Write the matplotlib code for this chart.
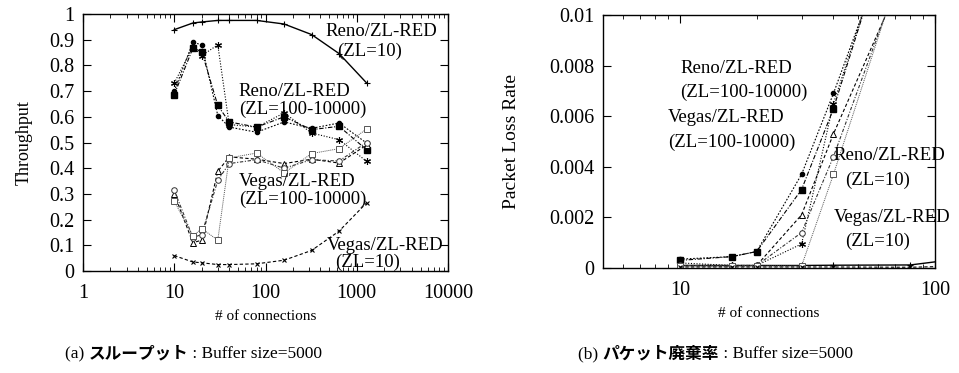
import numpy as np
import matplotlib.pyplot as plt
from matplotlib.ticker import FixedLocator, FixedFormatter, LogLocator, NullFormatter

plt.rcParams['font.family'] = ['Liberation Serif', 'Noto Sans CJK JP']

# number of connections
conns = [10, 16, 20, 30, 40, 80, 160, 320, 640, 1280]

# (a) throughput
thr_reno10 = [0.939, 0.965, 0.969, 0.975, 0.975, 0.975, 0.961, 0.920, 0.846, 0.732]
thr_reno_a = [0.700, 0.890, 0.880, 0.605, 0.560, 0.540, 0.580, 0.555, 0.576, 0.498]
thr_reno_b = [0.686, 0.867, 0.854, 0.644, 0.580, 0.560, 0.600, 0.550, 0.563, 0.472]
thr_reno_c = [0.731, 0.873, 0.838, 0.880, 0.570, 0.560, 0.615, 0.537, 0.511, 0.427]
thr_vegas_a = [0.300, 0.110, 0.120, 0.388, 0.444, 0.435, 0.418, 0.435, 0.420, 0.490]
thr_vegas_b = [0.314, 0.130, 0.142, 0.353, 0.418, 0.433, 0.400, 0.433, 0.428, 0.500]
thr_vegas_c = [0.272, 0.136, 0.165, 0.120, 0.440, 0.459, 0.382, 0.457, 0.476, 0.552]
thr_vegas10 = [0.060, 0.035, 0.032, 0.025, 0.025, 0.028, 0.042, 0.080, 0.155, 0.265]

# (b) packet loss rate (10 .. 160 connections)
conns_b = conns[:7]
loss_reno10 = [0.0001, 0.0001, 0.0001, 0.0001, 0.00011, 0.00012, 0.0005]
loss_reno_a = [0.00035, 0.00045, 0.00065, 0.0037, 0.0069, 0.0152, 0.03]
loss_reno_b = [0.0003, 0.00045, 0.00065, 0.0031, 0.0063, 0.0160, 0.03]
loss_reno_c = [0.0002, 0.0001, 0.0001, 0.00095, 0.0065, 0.0158, 0.03]
loss_vegas_a = [0.0001, 0.0001, 0.0001, 0.0021, 0.0053, 0.0122, 0.025]
loss_vegas_b = [0.0001, 0.00008, 0.0001, 0.0014, 0.0044, 0.0127, 0.025]
loss_vegas_c = [0.00008, 0.00008, 0.00008, 0.00008, 0.0037, 0.0130, 0.025]
loss_vegas10 = [0.00004, 0.00004, 0.00004, 0.00004, 0.00004, 0.00003, 0.0001]

thr_ticks = [0, 0.1, 0.2, 0.3, 0.4, 0.5, 0.6, 0.7, 0.8, 0.9, 1]
thr_labels = ['0', '0.1', '0.2', '0.3', '0.4', '0.5', '0.6', '0.7', '0.8', '0.9', '1']
loss_ticks = [0, 0.002, 0.004, 0.006, 0.008, 0.01]
loss_labels = ['0', '0.002', '0.004', '0.006', '0.008', '0.01']

caption_a = ['(a) ', 'スループット', ' : Buffer size=5000']
caption_b = ['(b) ', 'パケット廃棄率', ' : Buffer size=5000']

# line styles (gnuplot-ish monochrome)
styles = [
    dict(color='black', ls='-', lw=1.0, marker='+', ms=4, mew=0.8),
    dict(color='black', ls=(0, (1.5, 1.5)), lw=0.8, marker='o', ms=3),
    dict(color='black', ls=(0, (4, 1.5, 1, 1.5)), lw=0.8, marker='s', ms=4),
    dict(color='black', ls=(0, (1, 1.5)), lw=0.8, marker=(6, 2, 0), ms=5, mew=0.8),
    dict(color='black', ls=(0, (3, 2)), lw=0.8, marker='^', ms=4, mfc='white', mew=0.7),
    dict(color='#333333', ls=(0, (3, 1.5, 1, 1.5)), lw=0.8, marker='o', ms=4, mfc='white', mew=0.7),
    dict(color='#555555', ls=(0, (1, 1)), lw=0.7, marker='s', ms=4, mfc='white', mew=0.7),
    dict(color='black', ls=(0, (3, 2)), lw=0.8, marker='x', ms=3.5, mew=0.8),
]

fig = plt.figure(figsize=(9.59, 3.73), dpi=100)
W, H = 959, 373
ax1 = fig.add_axes([83 / W, 1 - 271 / H, 365 / W, 257 / H])
ax2 = fig.add_axes([603 / W, 1 - 268 / H, 332 / W, 253 / H])

thr = [thr_reno10, thr_reno_a, thr_reno_b, thr_reno_c,
       thr_vegas_a, thr_vegas_b, thr_vegas_c, thr_vegas10]
loss = [loss_reno10, loss_reno_a, loss_reno_b, loss_reno_c,
        loss_vegas_a, loss_vegas_b, loss_vegas_c, loss_vegas10]

for ys, st in zip(thr, styles):
    ax1.plot(conns, ys, **st)
for ys, st in zip(loss, styles):
    ax2.plot(conns_b, ys, **st)

ax1.set_xscale('log')
ax1.set_xlim(1, 10000)
ax1.set_ylim(0, 1)
ax1.yaxis.set_major_locator(FixedLocator(thr_ticks))
ax1.yaxis.set_major_formatter(FixedFormatter(thr_labels))
ax1.xaxis.set_major_locator(FixedLocator([1, 10, 100, 1000, 10000]))
ax1.xaxis.set_major_formatter(FixedFormatter(['1', '10', '100', '1000', '10000']))
ax1.xaxis.set_minor_locator(LogLocator(base=10, subs=np.arange(2, 10), numticks=20))
ax1.xaxis.set_minor_formatter(NullFormatter())

ax2.set_xscale('log')
ax2.set_xlim(5, 100)
ax2.set_ylim(0, 0.01)
ax2.yaxis.set_major_locator(FixedLocator(loss_ticks))
ax2.yaxis.set_major_formatter(FixedFormatter(loss_labels))
ax2.xaxis.set_major_locator(FixedLocator([10, 100]))
ax2.xaxis.set_major_formatter(FixedFormatter(['10', '100']))
ax2.xaxis.set_minor_locator(LogLocator(base=10, subs=np.arange(2, 10), numticks=20))
ax2.xaxis.set_minor_formatter(NullFormatter())

for ax in (ax1, ax2):
    ax.tick_params(which='both', direction='in', top=True, right=True,
                   labelsize=14.5, pad=6)
    ax.tick_params(axis='x', which='major', pad=9.5)
    ax.tick_params(which='major', length=6, width=0.8)
    ax.tick_params(which='minor', length=3, width=0.6)
    for sp in ax.spines.values():
        sp.set_linewidth(1.0)

ax1.set_ylabel('Throughput', fontsize=13, labelpad=12)
ax2.set_ylabel('Packet Loss Rate', fontsize=14, labelpad=21)
ax1.set_xlabel('# of connections', fontsize=11, labelpad=5)
ax2.set_xlabel('# of connections', fontsize=11, labelpad=5)

fs = 13.5
# annotations panel (a)
ax1.text(0.665, 0.93, 'Reno/ZL-RED', transform=ax1.transAxes, fontsize=fs, va='center')
ax1.text(0.695, 0.856, '(ZL=10)', transform=ax1.transAxes, fontsize=fs, va='center')
ax1.text(0.427, 0.7, 'Reno/ZL-RED', transform=ax1.transAxes, fontsize=fs, va='center')
ax1.text(0.427, 0.63, '(ZL=100-10000)', transform=ax1.transAxes, fontsize=fs, va='center')
ax1.text(0.427, 0.35, 'Vegas/ZL-RED', transform=ax1.transAxes, fontsize=fs, va='center')
ax1.text(0.427, 0.28, '(ZL=100-10000)', transform=ax1.transAxes, fontsize=fs, va='center')
ax1.text(0.668, 0.1, 'Vegas/ZL-RED', transform=ax1.transAxes, fontsize=fs, va='center')
ax1.text(0.69, 0.033, '(ZL=10)', transform=ax1.transAxes, fontsize=fs, va='center')

# annotations panel (b)
ax2.text(0.232, 0.79, 'Reno/ZL-RED', transform=ax2.transAxes, fontsize=fs, va='center')
ax2.text(0.232, 0.695, '(ZL=100-10000)', transform=ax2.transAxes, fontsize=fs, va='center')
ax2.text(0.196, 0.596, 'Vegas/ZL-RED', transform=ax2.transAxes, fontsize=fs, va='center')
ax2.text(0.196, 0.497, '(ZL=100-10000)', transform=ax2.transAxes, fontsize=fs, va='center')
ax2.text(0.695, 0.445, 'Reno/ZL-RED', transform=ax2.transAxes, fontsize=fs, va='center')
ax2.text(0.728, 0.346, '(ZL=10)', transform=ax2.transAxes, fontsize=fs, va='center')
ax2.text(0.695, 0.2, 'Vegas/ZL-RED', transform=ax2.transAxes, fontsize=fs, va='center')
ax2.text(0.728, 0.104, '(ZL=10)', transform=ax2.transAxes, fontsize=fs, va='center')

# captions: Japanese part in bold gothic, the rest in serif
renderer = fig.canvas.get_renderer()


def caption(x0, y0, parts):
    x = x0
    for i, part in enumerate(parts):
        if i == 1:
            t = fig.text(x / W, 1 - y0 / H, part, fontsize=12, va='baseline',
                         family=['Noto Sans CJK JP'], weight='bold')
        else:
            t = fig.text(x / W, 1 - y0 / H, part, fontsize=12.5, va='baseline')
        x += t.get_window_extent(renderer).width


caption(65, 358, caption_a)
caption(578, 358, caption_b)

fig.savefig('out.png', dpi=100)
